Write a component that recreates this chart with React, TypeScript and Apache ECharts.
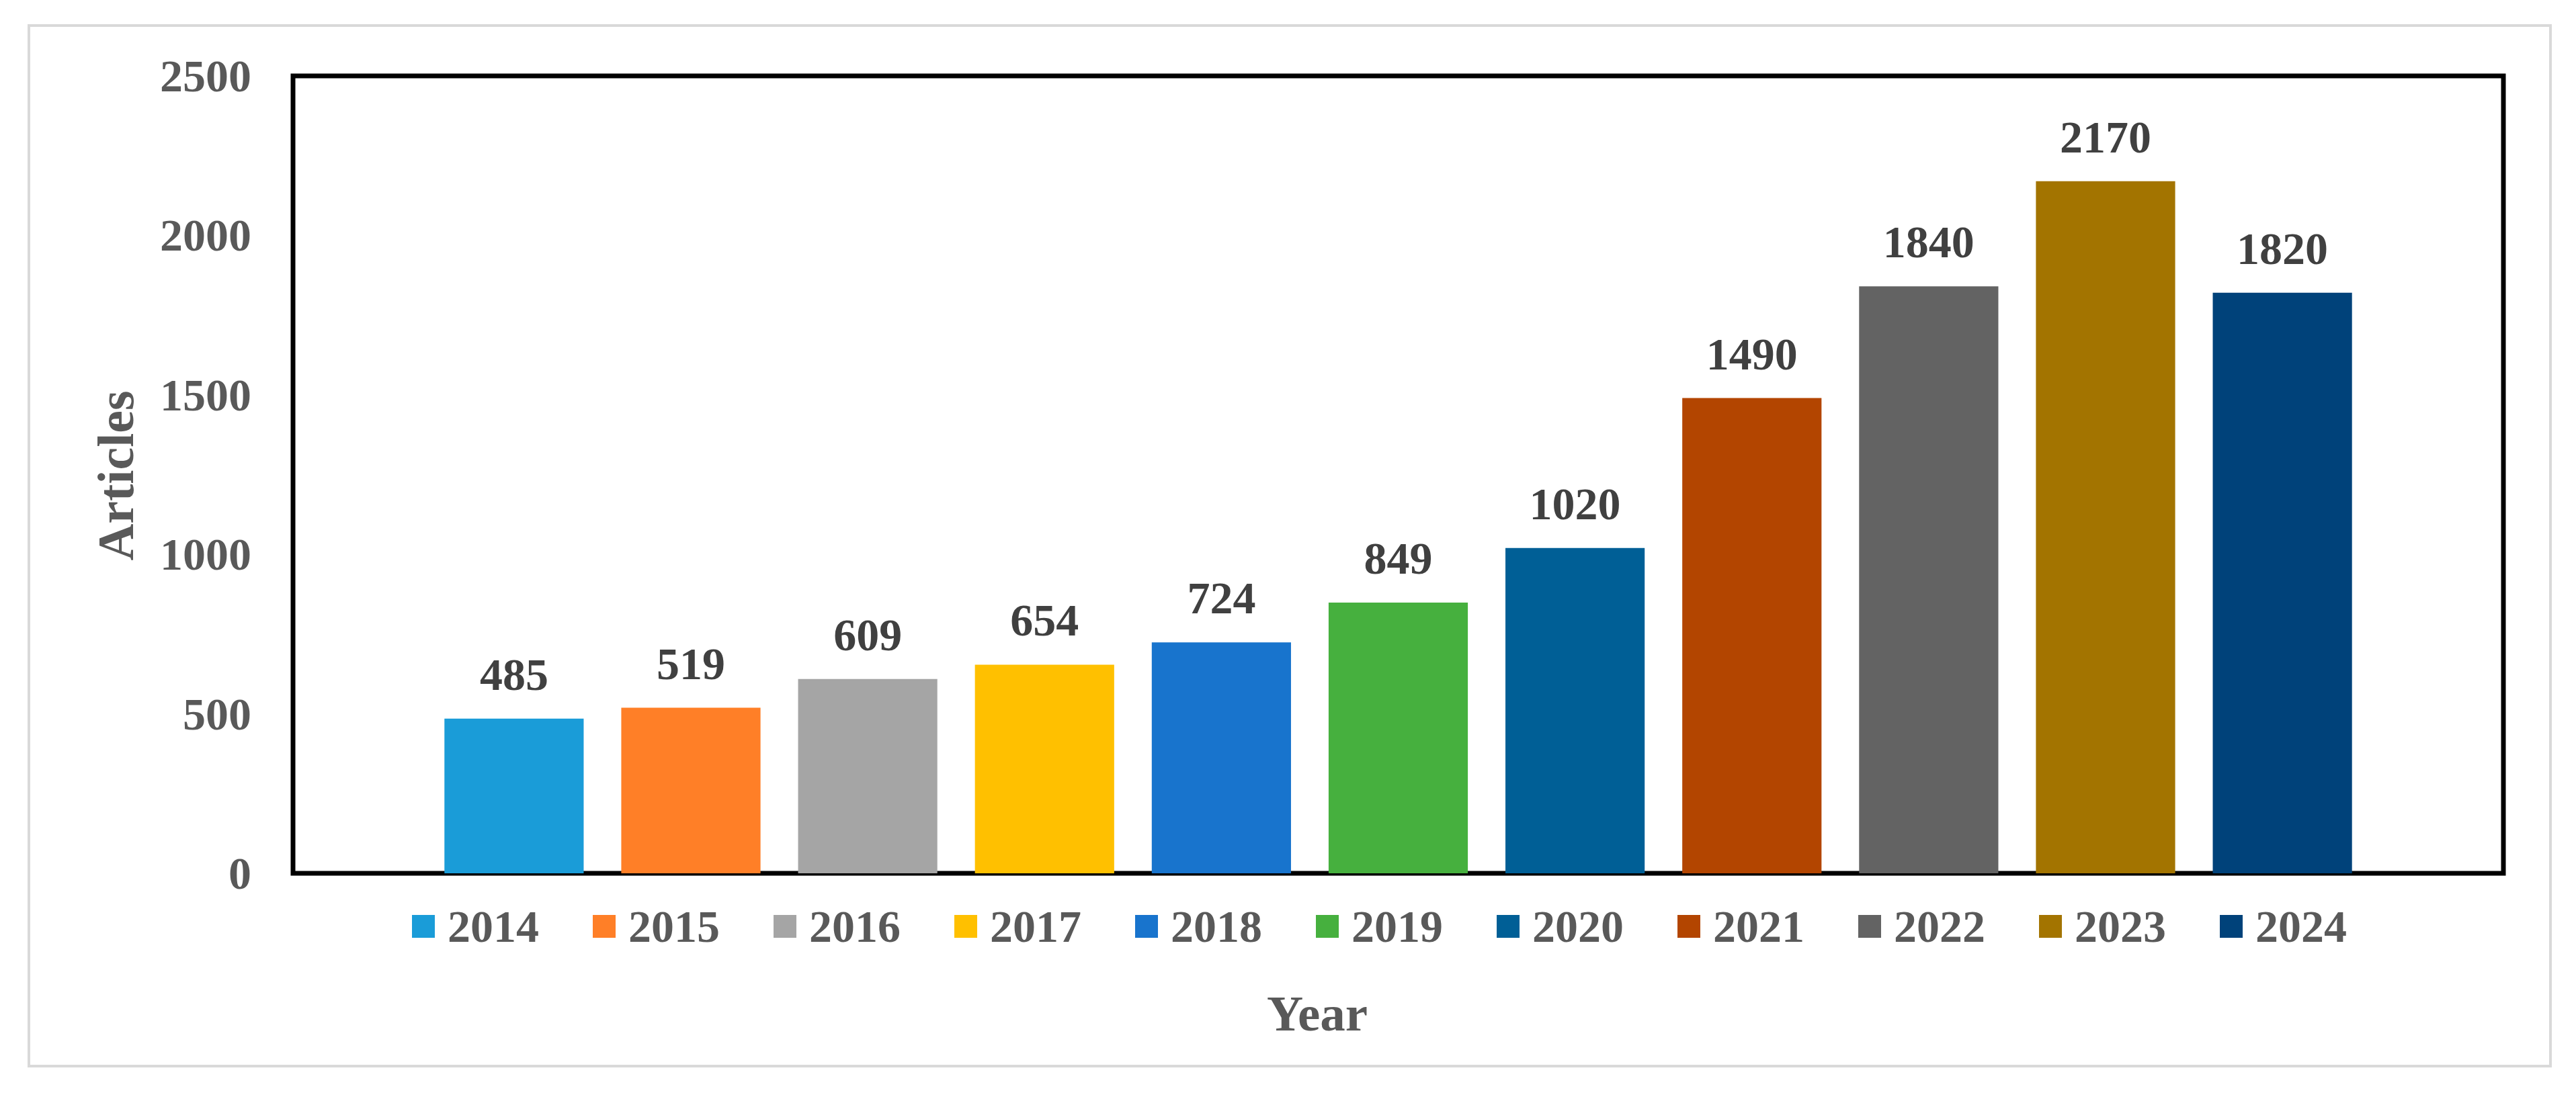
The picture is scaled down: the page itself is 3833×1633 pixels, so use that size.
import React, { useEffect, useRef } from "react";
import * as echarts from "echarts";

const years = ["2014", "2015", "2016", "2017", "2018", "2019", "2020", "2021", "2022", "2023", "2024"];
const articles = [485, 519, 609, 654, 724, 849, 1020, 1490, 1840, 2170, 1820];
const colors = ["#1a9cd8", "#ff7f27", "#a5a5a5", "#ffc000", "#1874cd", "#46b03e", "#005f96", "#b34500", "#636363", "#a37400", "#00427a"];
const yTicks = { min: 0, max: 2500, interval: 500 };
const yTitle = "Articles";
const xTitle = "Year";

const FONT = "'Liberation Serif', 'Times New Roman', serif";

export default function App() {
  const ref = useRef<HTMLDivElement>(null);
  useEffect(() => {
    document.body.style.margin = "0";
    const chart = echarts.init(ref.current!, null, { renderer: "svg" });
    const series = years.map((y, i) => ({
      name: y,
      type: "bar",
      data: [articles[i]],
      barGap: "27%",
      barCategoryGap: "13.7%",
      itemStyle: { color: colors[i] },
      label: {
        show: true,
        position: "top",
        distance: 32,
        fontSize: 68,
        fontWeight: "bold",
        fontFamily: FONT,
        color: "#404040",
      },
    }));
    chart.setOption({
      animation: false,
      backgroundColor: "#ffffff",
      grid: {
        left: 436,
        top: 113,
        right: 108,
        bottom: 333,
        show: true,
        borderColor: "#000000",
        borderWidth: 7,
        containLabel: false,
      },
      xAxis: {
        type: "category",
        data: [""],
        axisLine: { show: false },
        axisTick: { show: false },
        axisLabel: { show: false },
      },
      yAxis: {
        type: "value",
        min: yTicks.min,
        max: yTicks.max,
        interval: yTicks.interval,
        axisLine: { show: false },
        axisTick: { show: false },
        splitLine: { show: false },
        axisLabel: {
          fontSize: 68,
          fontWeight: "bold",
          fontFamily: FONT,
          color: "#595959",
          margin: 62,
          formatter: (v: number) => String(v),
        },
      },
      legend: {
        data: years,
        left: 608,
        top: 1340,
        icon: "rect",
        itemWidth: 34,
        itemHeight: 34,
        itemGap: 80,
        selectedMode: false,
        textStyle: {
          fontSize: 68,
          fontWeight: "bold",
          fontFamily: FONT,
          color: "#595959",
          padding: [0, 0, 0, 14],
        },
      },
      graphic: [
        {
          type: "rect",
          shape: { x: 43, y: 38, width: 3752, height: 1549 },
          style: { fill: "none", stroke: "#d9d9d9", lineWidth: 4 },
          silent: true,
        },
        {
          type: "text",
          x: 172,
          y: 708,
          rotation: Math.PI / 2,
          style: {
            text: yTitle,
            fontSize: 76,
            fontWeight: "bold",
            fontFamily: FONT,
            fill: "#595959",
            align: "center",
            verticalAlign: "middle",
          },
        },
        {
          type: "text",
          x: 1960,
          y: 1508,
          style: {
            text: xTitle,
            fontSize: 75,
            fontWeight: "bold",
            fontFamily: FONT,
            fill: "#595959",
            align: "center",
            verticalAlign: "middle",
          },
        },
      ],
      series,
    });
    return () => chart.dispose();
  }, []);
  return <div ref={ref} style={{ width: 3833, height: 1633 }} />;
}
